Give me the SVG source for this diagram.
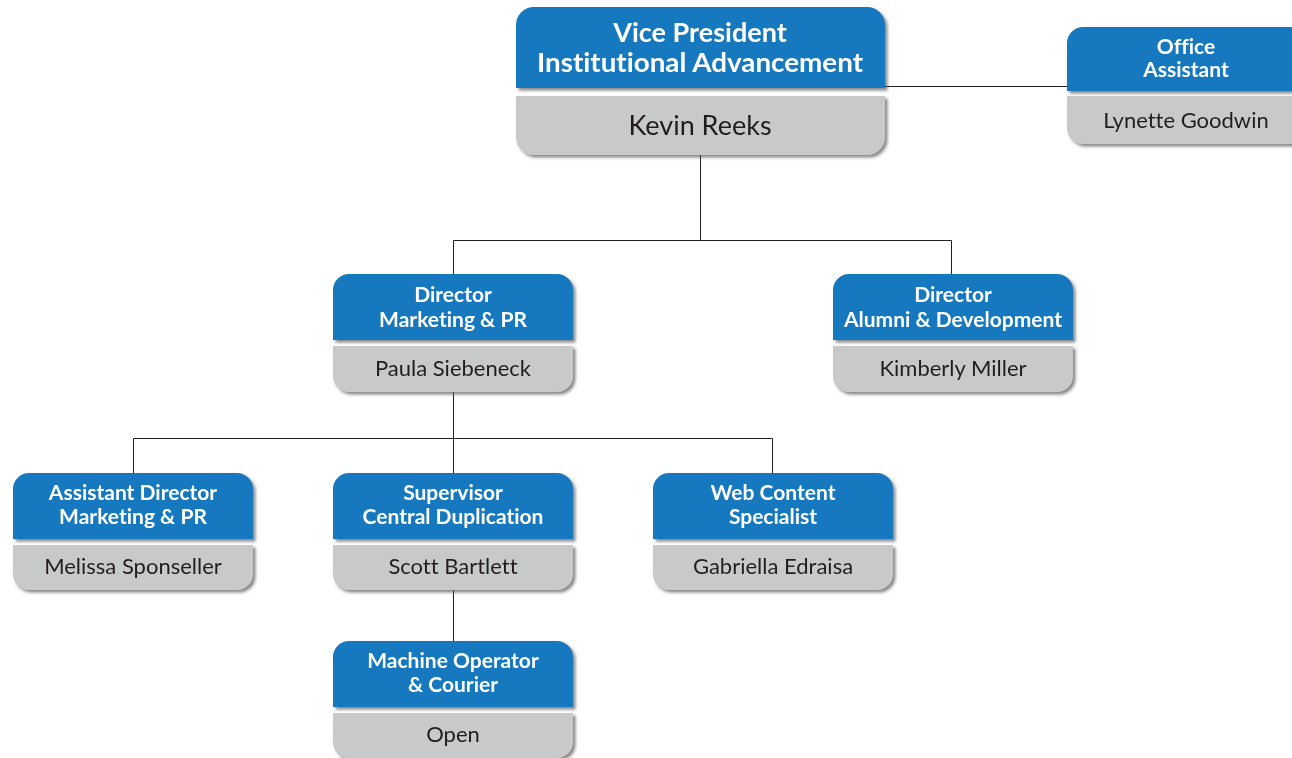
<svg xmlns="http://www.w3.org/2000/svg" width="1292" height="758" viewBox="0 0 1292 758">
<style>
.hd{fill:#1278be}
.nm{fill:#c8c9cb}
.t{font-family:Lato,"Noto Sans",sans-serif;font-weight:700;fill:#ffffff;font-size:21px;text-anchor:middle;font-variant-ligatures:none}
.tb{font-size:27px}
.n{font-family:Lato,"Noto Sans",sans-serif;font-weight:400;fill:#231f20;font-size:22px;text-anchor:middle;font-variant-ligatures:none}
.nb{font-size:27px}
.c{stroke:#231f20;stroke-width:1;fill:none}
.sh{filter:url(#ds)}
</style>
<defs>
<filter id="ds" x="-10%" y="-10%" width="130%" height="140%">
<feDropShadow dx="2.5" dy="2.5" stdDeviation="1.5" flood-color="#555" flood-opacity="0.7"/>
</filter>
</defs>
<rect width="1292" height="758" fill="#ffffff"/>
<g id="connectors">
<path class="c" d="M885 86.5H1067"/>
<path class="c" d="M700.5 155V240.5M453.5 274V240.5H951.5V274"/>
<path class="c" d="M453.5 392V438.5M133.5 473V438.5H772.5V473M453.5 438.5V473"/>
<path class="c" d="M453.5 590V641"/>
</g>
<g id="vp" class="sh">
<path class="hd" d="M516 88V25A18 18 0 0 1 534 7H867A18 18 0 0 1 885 25V88Z"/>
<path class="nm" d="M516 96H885V137A18 18 0 0 1 867 155H534A18 18 0 0 1 516 137Z"/>
<text class="t tb" x="700" y="42">Vice President</text>
<text class="t tb" x="700" y="72" textLength="326" lengthAdjust="spacingAndGlyphs">Institutional Advancement</text>
<text class="n nb" x="700" y="135">Kevin Reeks</text>
</g>
<g id="office" class="sh">
<path class="hd" d="M1067 91V43A16 16 0 0 1 1083 27H1290A16 16 0 0 1 1306 43V91Z"/>
<path class="nm" d="M1067 96H1306V128A16 16 0 0 1 1290 144H1083A16 16 0 0 1 1067 128Z"/>
<text class="t" x="1186" y="54">Office</text>
<text class="t" x="1186" y="77">Assistant</text>
<text class="n" x="1186" y="128">Lynette Goodwin</text>
</g>
<g id="dir-mpr" class="sh">
<path class="hd" d="M333 340V290A16 16 0 0 1 349 274H557A16 16 0 0 1 573 290V340Z"/>
<path class="nm" d="M333 346H573V376A16 16 0 0 1 557 392H349A16 16 0 0 1 333 376Z"/>
<text class="t" x="453" y="302">Director</text>
<text class="t" x="453" y="327">Marketing &amp; PR</text>
<text class="n" x="453" y="376">Paula Siebeneck</text>
</g>
<g id="dir-ad" class="sh">
<path class="hd" d="M833 340V290A16 16 0 0 1 849 274H1057A16 16 0 0 1 1073 290V340Z"/>
<path class="nm" d="M833 346H1073V376A16 16 0 0 1 1057 392H849A16 16 0 0 1 833 376Z"/>
<text class="t" x="953" y="302">Director</text>
<text class="t" x="953" y="327">Alumni &amp; Development</text>
<text class="n" x="953" y="376">Kimberly Miller</text>
</g>
<g id="asst-dir" class="sh">
<path class="hd" d="M13 539V489A16 16 0 0 1 29 473H237A16 16 0 0 1 253 489V539Z"/>
<path class="nm" d="M13 545H253V574A16 16 0 0 1 237 590H29A16 16 0 0 1 13 574Z"/>
<text class="t" x="133" y="500">Assistant Director</text>
<text class="t" x="133" y="524">Marketing &amp; PR</text>
<text class="n" x="133" y="574">Melissa Sponseller</text>
</g>
<g id="supervisor" class="sh">
<path class="hd" d="M333 539V489A16 16 0 0 1 349 473H557A16 16 0 0 1 573 489V539Z"/>
<path class="nm" d="M333 545H573V574A16 16 0 0 1 557 590H349A16 16 0 0 1 333 574Z"/>
<text class="t" x="453" y="500">Supervisor</text>
<text class="t" x="453" y="524">Central Duplication</text>
<text class="n" x="453" y="574">Scott Bartlett</text>
</g>
<g id="web" class="sh">
<path class="hd" d="M653 539V489A16 16 0 0 1 669 473H877A16 16 0 0 1 893 489V539Z"/>
<path class="nm" d="M653 545H893V574A16 16 0 0 1 877 590H669A16 16 0 0 1 653 574Z"/>
<text class="t" x="773" y="500">Web Content</text>
<text class="t" x="773" y="524">Specialist</text>
<text class="n" x="773" y="574">Gabriella Edraisa</text>
</g>
<g id="machine" class="sh">
<path class="hd" d="M333 707V657A16 16 0 0 1 349 641H557A16 16 0 0 1 573 657V707Z"/>
<path class="nm" d="M333 713H573V742A16 16 0 0 1 557 758H349A16 16 0 0 1 333 742Z"/>
<text class="t" x="453" y="668">Machine Operator</text>
<text class="t" x="453" y="692">&amp; Courier</text>
<text class="n" x="453" y="742">Open</text>
</g>
</svg>
